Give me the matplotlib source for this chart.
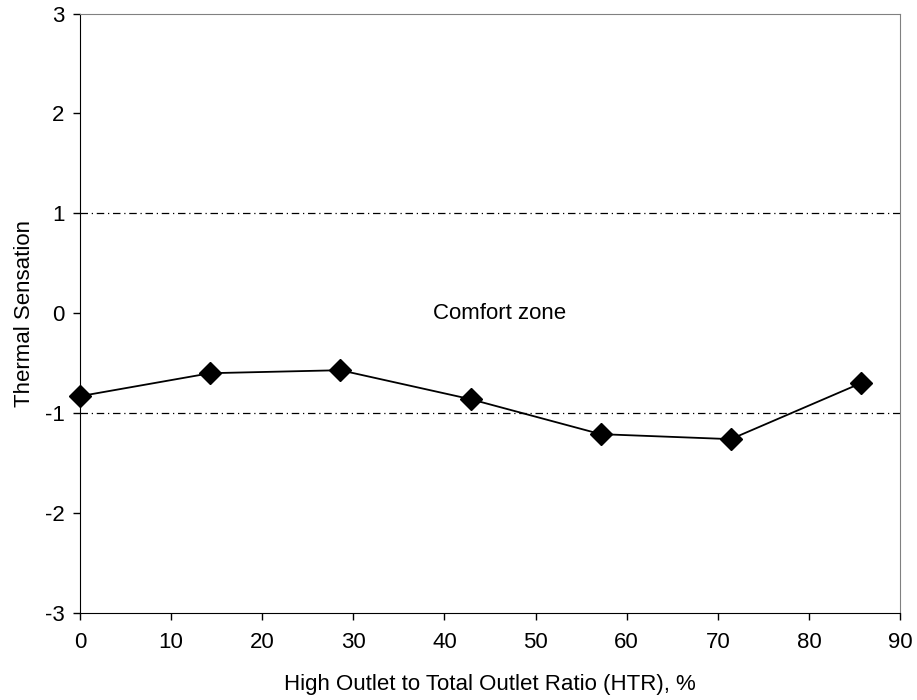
import matplotlib
matplotlib.use("Agg")
import matplotlib.pyplot as plt

plt.rcParams['font.family'] = ['Liberation Sans', 'DejaVu Sans']
plt.rcParams['axes.unicode_minus'] = False

# High outlet to total outlet ratio (%) and mean thermal sensation vote
htr = [0.0, 14.29, 28.57, 42.86, 57.14, 71.43, 85.71]
sensation = [-0.83, -0.60, -0.57, -0.86, -1.21, -1.26, -0.70]

comfort_limits = [-1, 1]
x_ticks = [0, 10, 20, 30, 40, 50, 60, 70, 80, 90]
y_ticks = [-3, -2, -1, 0, 1, 2, 3]

fig = plt.figure(figsize=(9.17, 7.0), dpi=100)
ax = fig.add_axes([80 / 917, 87 / 700, 820 / 917, 599.5 / 700])

for lim in comfort_limits:
    ax.axhline(lim, color='black', linewidth=0.9, linestyle=(0, (6, 3, 1, 3)))

ax.plot(htr, sensation, color='black', linewidth=1.3, marker='D',
        markersize=11, markerfacecolor='black', markeredgecolor='black',
        clip_on=False, zorder=5)

ax.text(46, 0, 'Comfort zone', ha='center', va='center', fontsize=16)

ax.set_xlim(0, 90)
ax.set_ylim(-3, 3)
ax.set_xticks(x_ticks)
ax.set_yticks(y_ticks)
ax.tick_params(axis='both', direction='out', length=5, width=1, labelsize=16)
ax.tick_params(axis='x', pad=9)
ax.tick_params(axis='y', pad=6)

ax.set_xlabel('High Outlet to Total Outlet Ratio (HTR), %', fontsize=16, labelpad=15)
ax.set_ylabel('Thermal Sensation', fontsize=16, labelpad=7)

for side in ('top', 'right'):
    ax.spines[side].set_color('#808080')
for side in ('left', 'bottom'):
    ax.spines[side].set_color('black')

fig.savefig('out.png', dpi=100)
